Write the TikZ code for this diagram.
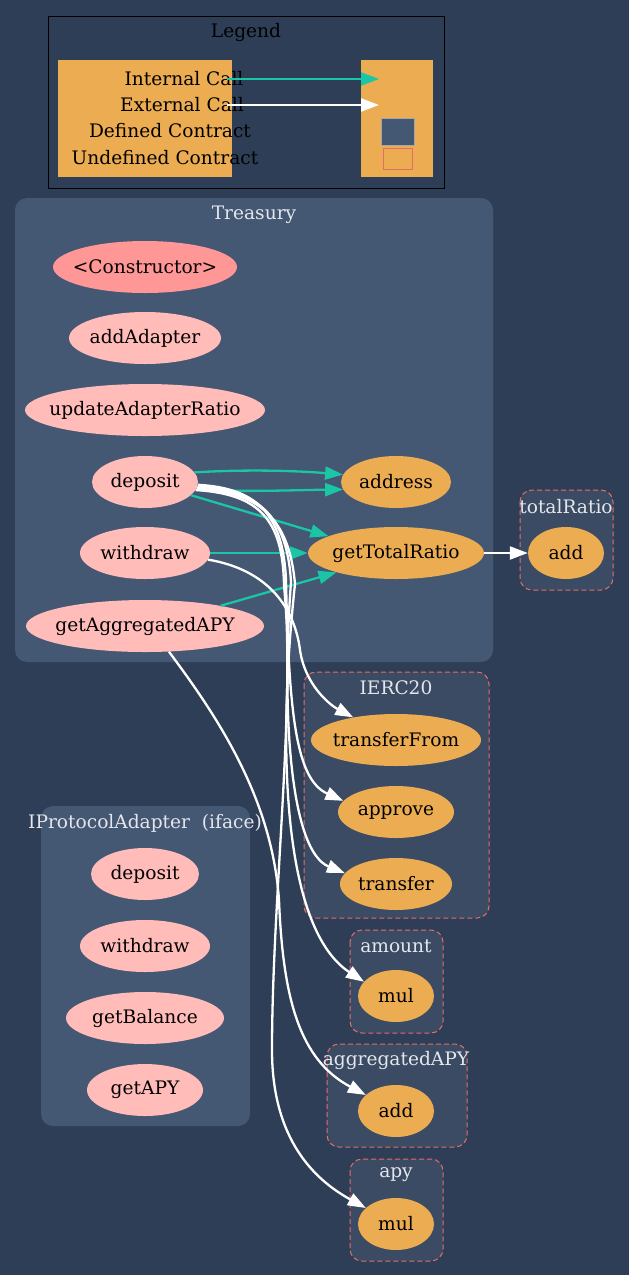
\documentclass[tikz,border=0pt]{standalone}
\usepackage{fontspec}
\setmainfont{DejaVu Serif}
\usetikzlibrary{shapes.geometric, arrows.meta, positioning}
\definecolor{graphbg}{RGB}{46,62,86}
\definecolor{contractfill}{RGB}{68,87,115}
\definecolor{extfill}{RGB}{59,75,99}
\definecolor{extborder}{RGB}{226,110,106}
\definecolor{pubfill}{RGB}{255,188,185}
\definecolor{ctorfill}{RGB}{255,151,151}
\definecolor{extcall}{RGB}{235,172,82}
\definecolor{intcall}{RGB}{27,198,166}
\definecolor{clusterlabel}{RGB}{228,230,236}

\begin{document}
\begin{tikzpicture}[x=1pt, y=-1pt,
  font=\fontsize{18.6}{22}\selectfont,
  fn/.style={ellipse, minimum height=52pt, inner xsep=-20pt, inner ysep=0pt, text=black},
  pubfn/.style={fn, fill=pubfill},
  ctorfn/.style={fn, fill=ctorfill},
  extfn/.style={fn, fill=extcall},
  clabel/.style={text=clusterlabel},
  undefined/.style={fill=extfill, draw=extborder, dash pattern=on 5pt off 3pt, line width=1pt, rounded corners=12pt},
  intarrow/.style={draw=intcall, line width=2.3pt, -{Triangle[length=18pt,width=13pt]}},
  extarrow/.style={draw=white, line width=2.3pt, -{Triangle[length=18pt,width=13pt]}}
]
  % Background
  \useasboundingbox (0,0) rectangle (629,1275);
  \fill[graphbg] (0,0) rectangle (629,1275);

  % Legend
  \draw[black, line width=1pt, fill=graphbg] (48,16) rectangle (444,188);
  \node (legendlbl) at (246,32) {Legend};
  \fill[extcall] (58,60) rectangle (232,177);
  \fill[extcall] (361,60) rectangle (433,177);
  \node (lgint) at (184,79) {Internal Call};
  \node (lgext) at (182,105) {External Call};
  \node (lgdef) at (170,131) {Defined Contract};
  \node (lgundef) at (165,158) {Undefined Contract};
  \coordinate (lgintA) at (227,79);
  \coordinate (lgintB) at (379,79);
  \coordinate (lgextA) at (227,105);
  \coordinate (lgextB) at (379,105);
  \draw[intarrow] (lgintA) -- (lgintB);
  \draw[extarrow] (lgextA) -- (lgextB);
  \draw[fill=contractfill, draw=gray!70] (381,118) rectangle (414,145);
  \draw[extborder, line width=1pt] (383,148) rectangle (412,169);

  % Treasury
  \fill[contractfill, rounded corners=12pt] (15,198) rectangle (493,662);
  \node[clabel] (treasurylbl) at (254,215) {Treasury};
  \node[ctorfn, minimum width=184pt] (ctor) at (145,267) {<Constructor>};
  \foreach \nm/\txt/\y/\w in {addadapter/addAdapter/338/152, updratio/updateAdapterRatio/410/240,
      dep/deposit/482/106, wd/withdraw/553/130, gapy/getAggregatedAPY/626/238} {
    \node[pubfn, minimum width=\w] (\nm) at (145,\y) {\txt};
  }
  \node[extfn, minimum width=110pt] (addr) at (396,482) {address};
  \node[extfn, minimum width=176pt] (gtr) at (396,553) {getTotalRatio};

  % totalRatio
  \draw[undefined] (520,490) rectangle (613,590);
  \node[clabel] (totalratiolbl) at (566,507) {totalRatio};
  \node[extfn, minimum width=76pt] (tradd) at (566,553) {add};

  % IERC20
  \draw[undefined] (304,672) rectangle (489,918);
  \node[clabel] (ierclbl) at (396,688) {IERC20};
  \node[extfn, minimum width=170pt] (tf) at (396,740) {transferFrom};
  \node[extfn, minimum width=116pt] (appr) at (396,812) {approve};
  \node[extfn, minimum width=112pt] (xfer) at (396,884) {transfer};

  % amount
  \draw[undefined] (350,930) rectangle (443,1033);
  \node[clabel] (amountlbl) at (396,946) {amount};
  \node[extfn, minimum width=76pt] (amul) at (396,996) {mul};

  % aggregatedAPY
  \draw[undefined] (327,1044) rectangle (467,1147);
  \node[clabel] (aggapylbl) at (396,1060) {aggregatedAPY};
  \node[extfn, minimum width=76pt] (aadd) at (396,1111) {add};

  % apy
  \draw[undefined] (350,1159) rectangle (443,1261);
  \node[clabel] (apylbl) at (396,1175) {apy};
  \node[extfn, minimum width=76pt] (apymul) at (396,1224) {mul};

  % IProtocolAdapter
  \fill[contractfill, rounded corners=12pt] (41,806) rectangle (250,1126);
  \node[clabel] (iplbl) at (145,823) {IProtocolAdapter\ \ (iface)};
  \foreach \nm/\txt/\y/\w in {ipdep/deposit/874/108, ipwd/withdraw/946/130,
      ipbal/getBalance/1018/158, ipapy/getAPY/1090/116} {
    \node[pubfn, minimum width=\w] (\nm) at (145,\y) {\txt};
  }

  % Internal calls
  \draw[intarrow] (dep.11) .. controls (250,469) and (300,471) .. (addr.172);
  \draw[intarrow] (dep.-9) .. controls (250,492) and (300,490) .. (addr.188);
  \draw[intarrow] (dep.-16) -- (gtr.166);
  \draw[intarrow] (wd) -- (gtr);
  \draw[intarrow] (gapy.15) -- (gtr.198);

  % External calls
  \draw[extarrow] (gtr) -- (tradd);
  \draw[extarrow] (wd.-6) .. controls (270,570) and (295,610) .. (300,650)
    .. controls (305,685) and (330,705) .. (tf);
  \draw[extarrow] (dep.-3) .. controls (255,488) and (283,512) .. (286,580)
    .. controls (289,720) and (297,780) .. (appr.168);
  \draw[extarrow] (dep.-5) .. controls (257,490) and (287,514) .. (291,582)
    .. controls (282,700) and (288,850) .. (xfer.168);
  \draw[extarrow] (dep.-7) .. controls (257,492) and (289,516) .. (295,584)
    .. controls (276,760) and (285,930) .. (amul.156);
  \draw[extarrow] (dep.-9) .. controls (258,494) and (283,518) .. (284,586)
    .. controls (296,700) and (272,900) .. (272,1050)
    .. controls (272,1140) and (315,1180) .. (apymul.152);
  \draw[extarrow] (gapy.-47) .. controls (220,720) and (272,800) .. (279,900)
    .. controls (283,1000) and (300,1060) .. (aadd.152);
\end{tikzpicture}
\end{document}
